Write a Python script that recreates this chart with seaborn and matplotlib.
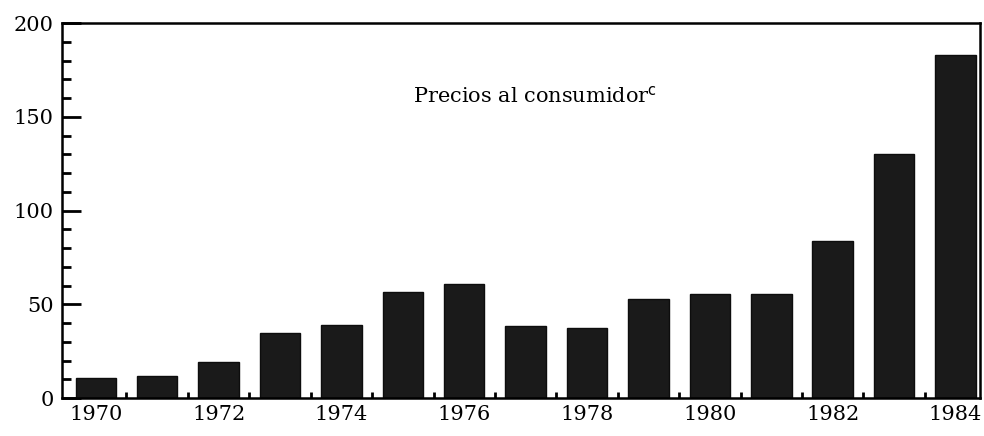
import matplotlib.pyplot as plt
import seaborn as sns
import pandas as pd
from matplotlib.ticker import MultipleLocator, FixedLocator

years = list(range(1970, 1985))
precios = [10.5, 11.9, 19.4, 34.9, 38.9, 56.5, 60.8, 38.4, 37.3, 52.8, 55.6, 55.6, 83.7, 130.0, 183.0]

data = pd.DataFrame({"Año": [str(y) for y in years], "Precios": precios})

sns.set_theme(style="ticks")
plt.rcParams['font.family'] = ['DejaVu Serif']
plt.rcParams['mathtext.fontset'] = 'dejavuserif'

fig = plt.figure(figsize=(9.84, 4.36), dpi=100)
ax = fig.add_axes([0.063, 0.087, 0.933, 0.86])

sns.barplot(data=data, x="Año", y="Precios", color="#1a1a1a", width=0.66,
            saturation=1, edgecolor="#0d0d0d", linewidth=1, ax=ax)

ax.set_xlim(-0.55, 14.4)
ax.set_ylim(0, 200)
ax.set_xlabel("")
ax.set_ylabel("")

ax.set_xticks(range(0, 15, 2))
ax.set_xticklabels([str(y) for y in years[::2]])
ax.xaxis.set_minor_locator(FixedLocator([i + 0.5 for i in range(14)]))
ax.yaxis.set_major_locator(MultipleLocator(50))
ax.yaxis.set_minor_locator(MultipleLocator(10))

ax.tick_params(axis='both', which='both', colors='black', labelcolor='black')
ax.tick_params(axis='y', which='major', direction='in', length=14, width=2, labelsize=15, pad=6)
ax.tick_params(axis='y', which='minor', direction='in', length=6.5, width=2)
ax.tick_params(axis='x', which='major', direction='in', length=0, labelsize=15, pad=5)
ax.tick_params(axis='x', which='minor', direction='in', length=4, width=2)

for s in ax.spines.values():
    s.set_visible(True)
    s.set_linewidth(1.8)
    s.set_color("black")

ax.text(0.382, 0.787, r"Precios al consumidor$^{\mathsf{c}}$", transform=ax.transAxes,
        fontsize=15, color="black", va="baseline")

plt.savefig("out.png", dpi=100)
